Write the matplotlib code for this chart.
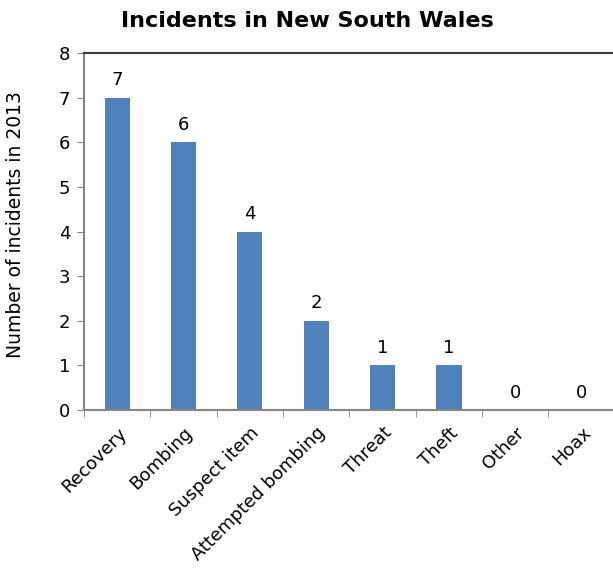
import matplotlib.pyplot as plt
import numpy as np

categories = ['Recovery', 'Bombing', 'Suspect item', 'Attempted bombing',
              'Threat', 'Theft', 'Other', 'Hoax']
incidents = [7, 6, 4, 2, 1, 1, 0, 0]
yticks = [0, 1, 2, 3, 4, 5, 6, 7, 8]

BAR_COLOR = '#4F81BD'
AXIS_GRAY = '#868686'

plt.rcParams['font.family'] = ['DejaVu Sans']

fig = plt.figure(figsize=(6.13, 5.71), dpi=100)
ax = fig.add_axes([0.137, 0.282, 0.866, 0.625])

x = np.arange(len(categories))
bars = ax.bar(x, incidents, width=0.38, color=BAR_COLOR, zorder=2)
ax.bar_label(bars, padding=6, fontsize=13, color='black')

ax.set_xlim(-0.5, len(categories) - 0.5)
ax.set_ylim(0, 8)
ax.set_yticks(yticks)
ax.tick_params(axis='y', direction='out', length=5, color=AXIS_GRAY,
               labelsize=13, pad=5)

# category ticks sit between the bars
ax.set_xticks(x)
ax.set_xticklabels(categories, rotation=45, ha='right', rotation_mode='anchor',
                   fontsize=13)
ax.tick_params(axis='x', which='major', length=0, pad=10)
ax.set_xticks(np.arange(len(categories) + 1) - 0.5, minor=True)
ax.tick_params(axis='x', which='minor', direction='out', length=5,
               color=AXIS_GRAY)

ax.spines['left'].set_color(AXIS_GRAY)
ax.spines['bottom'].set_color(AXIS_GRAY)
ax.spines['left'].set_linewidth(1.5)
ax.spines['bottom'].set_linewidth(1.5)
ax.spines['top'].set_color('#3a3a3a')
ax.spines['top'].set_linewidth(1.5)
ax.spines['right'].set_visible(False)

ax.set_ylabel('Number of incidents in 2013', fontsize=13.5)
ax.yaxis.set_label_coords(-0.112, 0.52)
fig.suptitle('Incidents in New South Wales', x=0.502, y=0.98,
             fontsize=16, fontweight='bold')

fig.savefig('out.png', dpi=100)
